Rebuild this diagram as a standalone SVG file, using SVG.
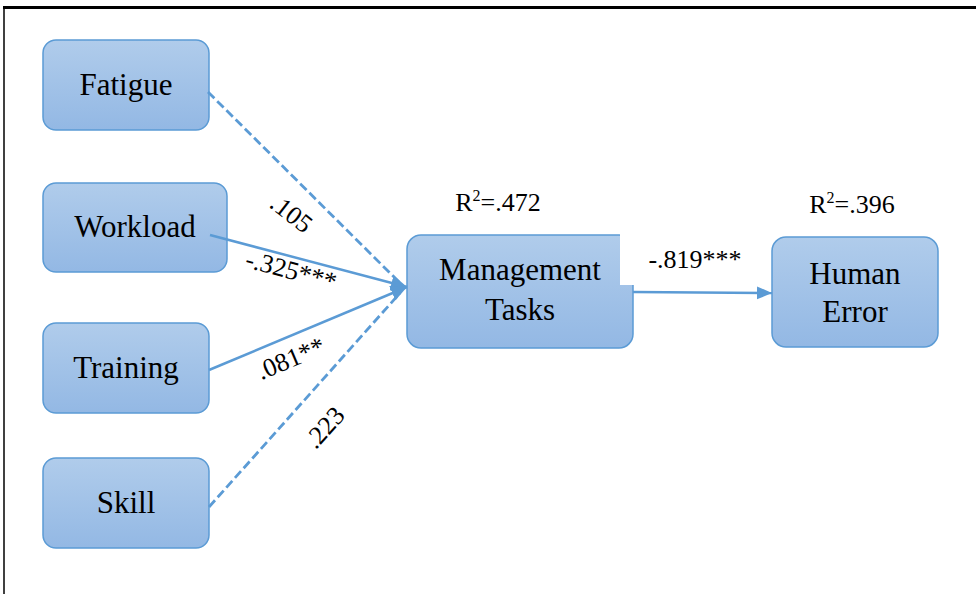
<svg xmlns="http://www.w3.org/2000/svg" width="976" height="594" viewBox="0 0 976 594">
<style>
.box{fill:url(#g);stroke:#5b9bd5;stroke-width:1.5}
.nt{font-family:"Liberation Serif","Times New Roman",serif;font-size:31px;fill:#000;text-anchor:middle}
.lb{font-family:"Liberation Serif","Times New Roman",serif;font-size:26px;fill:#000;text-anchor:middle}
.ln{stroke:#5b9bd5;stroke-width:2.5;fill:none}
.dash{stroke-width:2.8;stroke-dasharray:9 4}
</style>
<defs>
<linearGradient id="g" x1="0" y1="0" x2="0" y2="1">
<stop offset="0" stop-color="#b0cceb"/>
<stop offset="1" stop-color="#93b8e4"/>
</linearGradient>
<marker id="ah" markerUnits="userSpaceOnUse" markerWidth="18" markerHeight="16" refX="16" refY="8" orient="auto">
<path d="M0,0 L16,8 L0,16 Z" fill="#5b9bd5"/>
</marker>
<marker id="ah2" markerUnits="userSpaceOnUse" markerWidth="16" markerHeight="14" refX="15" refY="6.5" orient="auto">
<path d="M0,0 L15,6.5 L0,13 Z" fill="#5b9bd5"/>
</marker>
</defs>
<rect width="976" height="594" fill="#fff"/>
<g id="frame">
<line x1="3" y1="7.5" x2="976" y2="7.5" stroke="#000" stroke-width="3"/>
<line x1="4" y1="6" x2="4" y2="594" stroke="#000" stroke-width="1.5"/>
</g>
<g id="fatigue"><rect class="box" x="43" y="40" width="166" height="90" rx="13"/><text class="nt" x="126" y="95">Fatigue</text></g>
<g id="workload"><rect class="box" x="43" y="183" width="184" height="89" rx="13"/><text class="nt" x="135" y="237">Workload</text></g>
<g id="training"><rect class="box" x="43" y="323" width="166" height="90" rx="13"/><text class="nt" x="126" y="378">Training</text></g>
<g id="skill"><rect class="box" x="43" y="458" width="166" height="90" rx="13"/><text class="nt" x="126" y="513">Skill</text></g>
<g id="management">
<rect class="box" x="407" y="235" width="226" height="113" rx="14"/>
<rect x="620" y="232" width="22" height="53" fill="#fff"/>
<text class="nt" x="520" y="280">Management</text>
<text class="nt" x="520" y="320">Tasks</text>
</g>
<g id="human-error">
<rect class="box" x="772" y="237" width="166" height="110" rx="14"/>
<text class="nt" x="855" y="284">Human</text>
<text class="nt" x="855" y="322">Error</text>
</g>
<g id="connectors">
<line class="ln dash" x1="208" y1="92" x2="400" y2="283"/>
<line class="ln" x1="210" y1="235" x2="407" y2="287" marker-end="url(#ah)"/>
<line class="ln" x1="209" y1="370" x2="407" y2="287" marker-end="url(#ah)"/>
<line class="ln dash" x1="209" y1="507" x2="400" y2="293"/>
<line class="ln" x1="633" y1="292" x2="772" y2="293" marker-end="url(#ah2)"/>
</g>
<g id="labels">
<text class="lb" transform="translate(291,214) rotate(38)" y="8">.105</text>
<text class="lb" transform="translate(291,271) rotate(15)" y="8">-.325***</text>
<text class="lb" transform="translate(291,359) rotate(-23)" y="8">.081**</text>
<text class="lb" transform="translate(325,428) rotate(-48)" y="8">.223</text>
<text class="lb" x="695" y="268">-.819***</text>
<text class="lb" x="498" y="211">R<tspan font-size="16" dy="-10">2</tspan><tspan dy="10">=.472</tspan></text>
<text class="lb" x="852" y="213">R<tspan font-size="16" dy="-10">2</tspan><tspan dy="10">=.396</tspan></text>
</g>
</svg>
